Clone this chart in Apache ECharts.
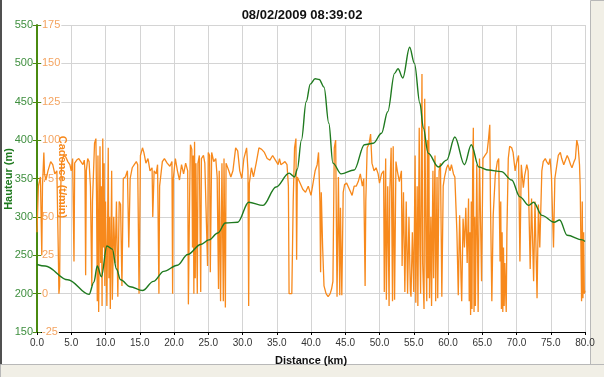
<!DOCTYPE html>
<html>
<head>
<meta charset="utf-8">
<script src="https://cdn.jsdelivr.net/npm/echarts@6/dist/echarts.min.js"></script>
<style>
  html, body { margin: 0; padding: 0; background: #fff; }
  #chart { width: 604px; height: 377px; }
</style>
</head>
<body>
<div id="chart"></div>
<script>
// title + axis labels
const chartTitle = "08/02/2009 08:39:02";
const heightName = "Hauteur (m)";
const cadenceName = "Cadence (t/min)";
const distanceName = "Distance (km)";

// elevation profile [km, m]
const elevation = [
  [0, 238], [1.2, 236], [4.5, 218], [7.6, 199], [8.3, 215], [8.8, 236], [9.4, 222],
  [10.2, 262], [11.0, 258], [11.6, 232], [12.2, 218], [13.6, 209], [15.4, 204],
  [17.0, 216], [18.5, 229], [20.5, 237], [22, 251], [23.9, 264], [25.1, 270],
  [26.4, 279], [27.5, 292], [29.3, 293], [30.9, 319], [33, 315], [34.9, 339],
  [36.8, 357], [37.6, 352], [38.0, 362], [38.6, 400], [39.3, 450], [39.9, 473],
  [40.6, 480], [41.2, 479], [41.9, 469], [42.6, 422], [43.2, 370], [44.4, 356],
  [46.3, 361], [47.8, 394], [49.1, 396], [50.3, 409], [51.2, 437], [52.2, 487],
  [52.7, 493], [53.4, 481], [54.4, 521], [55.1, 500], [55.9, 448], [56.4, 416],
  [57.1, 383], [58.6, 365], [59.8, 374], [61, 404], [62.4, 368], [63.4, 394],
  [64.5, 365], [65.9, 361], [67.8, 359], [69.3, 348], [70.5, 326], [71.8, 315],
  [72.5, 319], [73.7, 302], [75.5, 293], [76.3, 296], [77.4, 276], [79.6, 270], [80, 268]
];

// cadence trace [km, t/min]
const cadence = [
  [0, 40], [0.2, 70], [0.5, 76], [0.7, 25], [0.8, 70], [1.0, 92], [1.1, 78], [1.3, 74],
  [1.6, 80], [2.0, 86], [2.3, 84], [2.6, 78], [2.9, 80], [3.1, 30], [3.2, 0], [3.3, 5],
  [3.4, 60], [3.6, 86], [3.9, 90], [4.2, 89], [4.5, 86], [4.8, 84], [5.0, 80], [5.2, 88],
  [5.4, 21], [5.5, 85], [5.8, 87], [6.1, 88], [6.4, 86], [6.7, 84], [6.9, 87], [7.0, 80],
  [7.1, 12], [7.2, 80], [7.4, 88], [7.6, 86], [7.8, 70], [8.0, 5], [8.1, 60], [8.4, 98],
  [8.6, 101], [8.7, 60], [8.8, -5], [8.9, 90], [9.0, -12], [9.1, 40], [9.2, 96], [9.3, 20],
  [9.4, 70], [9.5, -8], [9.6, 101], [9.7, 30], [9.8, 85], [9.9, 5], [10.0, 60], [10.2, -8],
  [10.3, 40], [10.4, 95], [10.5, 10], [10.6, 50], [10.7, -10], [10.8, 30], [10.9, 80],
  [11.0, -4], [11.2, 50], [11.4, 20], [11.6, 60], [11.8, -2], [12.0, 60], [12.2, 58],
  [12.4, 5], [12.6, 75], [12.9, 76], [13.2, 80], [13.4, 30], [13.6, 75], [13.9, 82],
  [14.2, 84], [14.5, 86], [14.7, 84], [14.9, 0], [15.1, 90], [15.4, 95], [15.6, 92],
  [15.9, 85], [16.2, 88], [16.5, 80], [16.8, 82], [16.9, 50], [17.1, 80], [17.4, 78],
  [17.6, 84], [17.8, 0], [17.9, 70], [18.3, 86], [18.6, 88], [19.0, 85], [19.4, 83],
  [19.7, 86], [19.8, 0], [19.9, 75], [20.2, 88],
  [20.5, 80], [20.8, 74], [21.1, 84], [21.4, 78], [21.7, 85], [22.0, 80], [22.1, -7],
  [22.3, 70], [22.4, 97], [22.6, 94], [22.7, 30], [22.8, 90], [22.9, 0], [23.0, 99],
  [23.1, 10], [23.2, 85], [23.4, 0], [23.5, 85], [23.7, 90], [23.9, 1], [24.0, 88],
  [24.3, 90], [24.5, 85], [24.9, 18], [25.0, 92], [25.2, 90], [25.3, 14], [25.5, 92],
  [25.8, 86], [26.1, 88], [26.3, 76], [26.5, 3], [26.6, 80], [26.8, -5], [27.0, 85],
  [27.2, -5], [27.3, 88], [27.5, -9], [27.6, 85], [28.0, 80], [28.3, 76], [28.6, 80],
  [29.0, 95], [29.3, 93], [29.6, 80], [29.9, 75], [30.2, 88], [30.6, 95], [30.8, 80],
  [30.9, -8], [31.0, 72], [31.3, 82], [31.6, 76], [32.0, 85], [32.4, 95], [32.8, 94],
  [33.2, 92], [33.6, 88], [34.0, 87], [34.4, 90], [34.8, 87], [35.2, 84], [35.4, 88],
  [35.6, 84], [35.9, 85], [36.2, 86], [36.5, 84], [36.7, 70], [36.8, 0], [37.2, 0],
  [37.4, 60], [37.6, 95], [37.8, 101], [37.9, 22], [38.0, 76], [38.4, 72], [38.8, 68],
  [39.2, 66], [39.6, 70], [40.0, 64], [40.3, 72],
  [40.6, 80], [40.9, 84], [41.1, 92], [41.3, 60], [41.4, 14], [41.5, 66], [41.7, 30],
  [41.9, 5], [42.2, 0], [42.5, -2], [42.8, 0], [43.0, 3], [43.2, 8], [43.4, 95],
  [43.6, 100], [43.7, 50], [43.8, -2], [44.0, 76], [44.2, -1], [44.3, 56], [44.5, -1],
  [44.7, 66], [44.9, 71], [45.2, 72], [45.6, 68], [46.0, 64], [46.3, 70], [46.6, 70],
  [46.9, 73], [47.2, 78], [47.5, 70], [47.7, 75], [47.9, 5], [48.0, 60], [48.2, 95],
  [48.5, 98], [48.7, 104], [48.9, 85], [49.2, 80], [49.5, 82], [49.8, 78], [50.0, 72],
  [50.3, 78], [50.6, 80], [50.7, 1], [50.9, 88], [51.0, -4], [51.2, 70], [51.4, -8],
  [51.5, 66], [51.7, 95], [51.9, -5], [52.0, 96], [52.2, -4], [52.4, 86], [52.6, 80],
  [52.9, 73], [53.2, 80], [53.3, 18], [53.5, 66], [53.7, 1], [53.9, 60], [54.1, 0],
  [54.3, 50], [54.5, 2], [54.6, -2], [54.8, 40], [55.0, 1], [55.2, 90], [55.3, -6],
  [55.5, 70], [55.6, -8], [55.8, 108], [55.9, 30], [56.0, 0], [56.2, 143], [56.3, 20],
  [56.5, -10], [56.6, 127], [56.8, 20], [56.9, -5], [57.0, 100], [57.1, 10], [57.2, 109],
  [57.3, -3], [57.5, 50], [57.6, -8], [57.8, 80], [57.9, 10], [58.1, 90], [58.2, -5],
  [58.4, 76], [58.5, -3], [58.7, 80], [58.9, 85], [59.1, -2], [59.3, 70], [59.5, 76],
  [59.8, 82], [60.0, 84], [60.3, 80], [60.5, 84],
  [60.8, 78], [61.0, 76], [61.1, 64], [61.3, 40], [61.5, -1], [61.7, 51], [61.9, 10],
  [62.0, -5], [62.2, 49], [62.4, 30], [62.6, 56], [62.8, 20], [63.0, 62], [63.1, -5],
  [63.2, 40], [63.3, -14], [63.4, 60], [63.5, -10], [63.6, 80], [63.7, 108], [63.8, -12],
  [63.9, 50], [64.0, -8], [64.2, 84], [64.4, -12], [64.6, 88], [64.9, 8], [65.1, 88],
  [65.4, 90], [65.7, 92], [65.9, 100], [66.1, 110], [66.2, 60], [66.4, -5], [66.6, 51],
  [66.9, 77], [67.2, 86], [67.4, 88], [67.6, 21], [67.7, 60], [67.8, -10], [67.9, 40],
  [68.0, -12], [68.1, 30], [68.2, -8], [68.3, 20], [68.5, -12], [68.6, 40], [68.8, 88],
  [69.0, 96], [69.3, 95], [69.5, 92], [69.8, 80], [70.0, 85], [70.3, 90], [70.5, 21],
  [70.7, 84], [71.0, 69], [71.2, 77], [71.5, 84], [71.7, 80], [72.0, 16], [72.2, 62],
  [72.5, 8], [72.7, 60], [73.0, -3], [73.2, 58], [73.4, 30], [73.7, 80], [73.9, 86],
  [74.2, 88], [74.4, 86], [74.7, 84], [74.9, 88], [75.1, 77], [75.4, 30], [75.6, 75],
  [75.9, 84], [76.1, 90], [76.4, 92], [76.6, 88], [76.9, 84], [77.1, 84], [77.4, 90],
  [77.6, 88], [77.9, 84], [78.1, 82], [78.4, 86], [78.6, 88], [78.8, 100], [79.0, 96],
  [79.2, 84], [79.3, 70], [79.5, -5], [79.6, 60], [79.7, -3], [79.8, 40], [79.9, 0], [80.0, 2]
];

const GREEN = "#1f7a1f";
const ORANGE = "#f7891c";
const FONT = "Liberation Sans";

const chart = echarts.init(document.getElementById("chart"), null, { renderer: "canvas" });

chart.setOption({
  animation: false,
  backgroundColor: "#ffffff",
  textStyle: { fontFamily: FONT },
  title: {
    text: chartTitle,
    left: 297,
    textAlign: "center",
    top: 4,
    textStyle: { fontSize: 13, fontWeight: "bold", color: "#111", fontFamily: FONT },
  },
  grid: { left: 37, right: 19, top: 25, bottom: 45, outerBoundsMode: "none", containLabel: false },
  xAxis: {
    type: "value",
    min: 0,
    max: 80,
    interval: 5,
    name: distanceName,
    nameLocation: "middle",
    nameGap: 23,
    nameTextStyle: { fontWeight: "bold", fontSize: 11, color: "#111" },
    axisLine: { onZero: false, lineStyle: { color: "#000", width: 1 } },
    axisTick: { length: 3, lineStyle: { color: "#000" } },
    axisLabel: {
      fontSize: 10,
      color: "#333",
      margin: 6,
      formatter: (v) => v.toFixed(1),
    },
    splitLine: { show: true, lineStyle: { color: "#d4d4d4" } },
  },
  yAxis: [
    {
      type: "value",
      min: 150,
      max: 550,
      interval: 50,
      position: "left",
      axisLine: { show: true, onZero: false, lineStyle: { color: "#4a8a10", width: 2 } },
      axisTick: { show: true, length: 4, lineStyle: { color: "#4a8a10" } },
      axisLabel: { fontSize: 11, color: "#3f8f3f", margin: 4 },
      splitLine: { show: true, lineStyle: { color: "#d4d4d4" } },
    },
    {
      type: "value",
      min: -25,
      max: 175,
      interval: 25,
      position: "left",
      offset: 0,
      axisLine: { show: false, onZero: false },
      axisTick: { show: true, inside: true, length: 4, lineStyle: { color: "#4a8a10" } },
      axisLabel: {
        inside: true,
        fontSize: 11,
        color: "#f4a461",
        margin: 5,
        backgroundColor: "#fff",
        padding: [0, 1, 0, 0],
      },
      splitLine: { show: false },
    },
  ],
  series: [
    {
      name: cadenceName,
      type: "line",
      yAxisIndex: 1,
      data: cadence,
      showSymbol: false,
      lineStyle: { color: ORANGE, width: 1.3 },
      z: 2,
    },
    {
      name: heightName,
      type: "line",
      yAxisIndex: 0,
      data: elevation,
      smooth: 0.35,
      smoothMonotone: "x",
      showSymbol: false,
      lineStyle: { color: GREEN, width: 1.4 },
      z: 3,
    },
  ],
  graphic: [
    {
      type: "text",
      x: 9,
      y: 179,
      rotation: Math.PI / 2,
      z: 10,
      style: {
        text: heightName,
        fill: GREEN,
        font: "bold 11px 'Liberation Sans'",
        align: "center",
        verticalAlign: "middle",
      },
    },
    {
      type: "text",
      x: 62,
      y: 177,
      rotation: -Math.PI / 2,
      z: 10,
      style: {
        text: cadenceName,
        fill: ORANGE,
        font: "bold 11px 'Liberation Sans'",
        align: "center",
        verticalAlign: "middle",
      },
    },
    { type: "rect", left: 0, top: 0, shape: { width: 2, height: 377 }, style: { fill: "#505050" } },
    { type: "rect", left: 590, top: 0, shape: { width: 14, height: 377 }, style: { fill: "#f1efe6", stroke: "#b8b8b8" } },
    { type: "rect", left: 0, top: 364, shape: { width: 604, height: 13 }, style: { fill: "#f1efe6", stroke: "#b8b8b8" } },
  ],
});
</script>
</body>
</html>
